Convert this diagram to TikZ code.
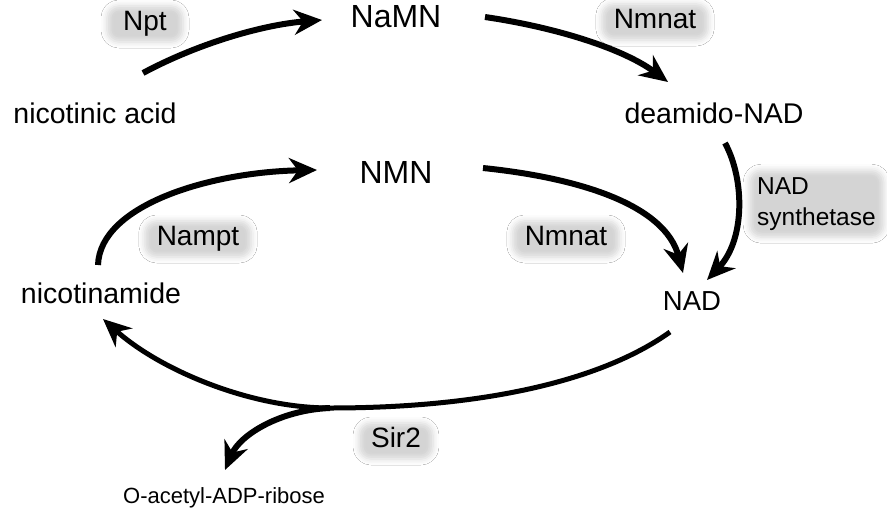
\documentclass[tikz,border=0pt]{standalone}
\usepackage{fontspec}
\setmainfont{Liberation Sans}
\usetikzlibrary{arrows.meta,shadows.blur}
\begin{document}
\begin{tikzpicture}[x=1pt,y=-1pt,
  met/.style={inner sep=0pt,anchor=base,font=\fontsize{28.5}{31}\selectfont},
  bigmet/.style={met,font=\fontsize{32}{34}\selectfont},
  soft/.style={rounded corners=12pt,
    blur shadow={shadow xshift=0pt,shadow yshift=0pt,shadow blur radius=6pt,shadow opacity=17}},
  enz/.style={soft,anchor=base,font=\fontsize{28}{30}\selectfont,
    inner xsep=12pt,inner ysep=5pt,text height=19pt,text depth=7pt},
  flow/.style={line width=6pt,-{Stealth[length=28pt,width=25pt,inset=9pt]}}]
\useasboundingbox (0,0) rectangle (887,512);
\fill[white] (0,0) rectangle (887,512);
% enzymes
\node[enz,minimum width=76pt] (npt) at (145,30) {Npt};
\node[enz] (nmnat1) at (655,28) {Nmnat};
\node[enz] (nampt) at (198,245) {Nampt};
\node[enz] (nmnat2) at (566,245) {Nmnat};
\node[enz] (sir2) at (396,447) {Sir2};
\node[soft,anchor=north west,font=\fontsize{24.5}{31}\selectfont,align=left,
    inner xsep=8pt,inner ysep=7pt] (nadsyn) at (749,170) {NAD\\synthetase};
% metabolites
\node[met] (nicacid) at (95,123) {nicotinic acid};
\node[bigmet] (namn) at (396,27) {NaMN};
\node[met] (deamido) at (714,123) {deamido-NAD};
\node[bigmet] (nmn) at (396,183) {NMN};
\node[met,font=\fontsize{27.5}{29}\selectfont] (nad) at (692,310) {NAD};
\node[met] (nam) at (101,303) {nicotinamide};
\node[met,font=\fontsize{22}{24}\selectfont] (oaadpr) at (224,503) {O-acetyl-ADP-ribose};
% connector ends
\coordinate (a1) at (143,73);  \coordinate (b1) at (322,20);
\coordinate (a2) at (485,17);  \coordinate (b2) at (668,82);
\coordinate (a3) at (725,143); \coordinate (b3) at (707,280);
\coordinate (a4) at (483,168); \coordinate (b4) at (683,273);
\coordinate (a5) at (98,265);  \coordinate (b5) at (317,170);
\coordinate (a6) at (670,332); \coordinate (j6) at (330,408); \coordinate (b6) at (103,319);
\coordinate (b7) at (225,470);
% arrows
\draw[flow] (a1) .. controls (195,45) and (260,25) .. (b1);
\draw[flow] (a2) .. controls (560,28) and (625,50) .. (b2);
\draw[flow] (a3) .. controls (745,180) and (745,240) .. (b3);
\draw[flow] (a4) .. controls (580,178) and (665,205) .. (b4);
\draw[flow] (a5) .. controls (100,205) and (210,172) .. (b5);
\draw[flow,line width=5pt] (a6) .. controls (600,382) and (480,408) .. (j6)
   .. controls (250,408) and (160,370) .. (b6);
\draw[flow] (j6) .. controls (280,410) and (240,435) .. (b7);
\end{tikzpicture}
\end{document}
